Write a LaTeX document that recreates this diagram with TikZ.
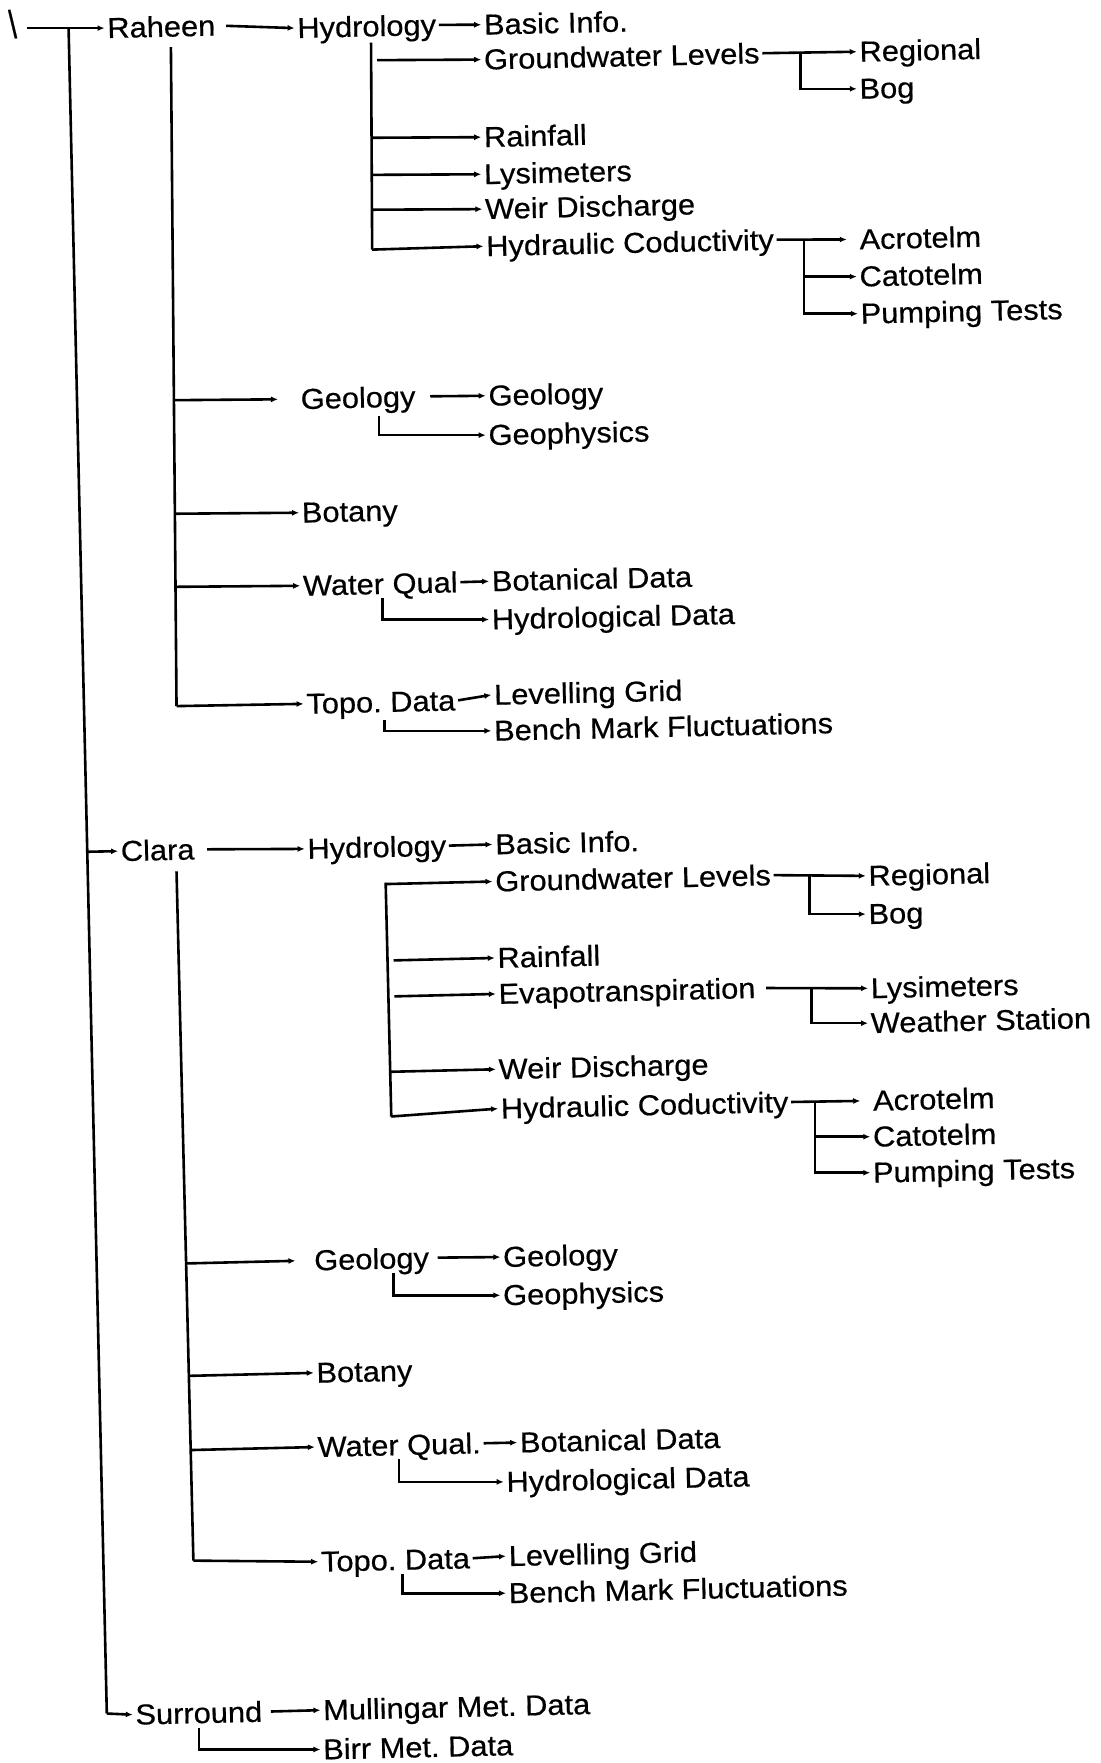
\documentclass[tikz,border=0pt]{standalone}
\usepackage{fontspec}
\setmainfont{Liberation Sans}[FakeStretch=1.07,FakeBold=0.5]
\usetikzlibrary{calc,arrows.meta}
\frenchspacing
\begin{document}
\begin{tikzpicture}[x=0.5624pt,y=-0.5624pt,
  lbl/.style={anchor=west,inner xsep=1.2pt,inner ysep=0pt,text height=10pt,text depth=0pt,rotate=1.3,font=\fontsize{14.4pt}{17pt}\selectfont},
  ln/.style={line width=1.3pt},
  arr/.style={ln,-{Latex[length=3.5pt,width=3pt]}}]
\fill[white] (0,0) rectangle (978.35,1568);
\path[use as bounding box] (0,0) rectangle (978.35,1568);

% ---------- root ----------
\node[lbl] (bs) at (5,25) {\scalebox{1}[1.35]{\textbackslash}};
\coordinate (root) at (24,25);
\coordinate (T) at (61,25);
\coordinate (Tb) at (95,1524);
\node[lbl] (raheen) at (93,25) {Raheen};
\draw[arr] (root) -- (raheen.west);
\draw[ln] (T) -- (Tb);

% ---------- Raheen ----------
\node[lbl] (hydR) at (262,25) {Hydrology};
\draw[arr,shorten <=4pt] (raheen.east) -- (hydR.west);
\node[lbl] (basR) at (428,22) {Basic Info.};
\draw[arr] (hydR.east) -- (basR.west);
\coordinate (hRt) at (330,38);
\coordinate (hRb) at (331,222);
\draw[ln] (hRt) -- (hRb);
\node[lbl] (gwR) at (428,53) {Groundwater Levels};
\node[lbl] (regR) at (762,46) {Regional};
\node[lbl] (bogR) at (762,79) {Bog};
\coordinate (gwRj) at (712,47);
\node[lbl] (rainR) at (428,122) {Rainfall};
\node[lbl] (lysR) at (428,155) {Lysimeters};
\node[lbl] (weirR) at (429,186) {Weir Discharge};
\node[lbl] (hcR) at (430,219) {Hydraulic Coductivity};
\node[lbl] (acrR) at (762,213) {Acrotelm};
\node[lbl] (catR) at (762,246) {Catotelm};
\node[lbl] (pumR) at (763,279) {Pumping Tests};
\coordinate (hcRj) at (715,214);
\draw[arr,shorten <=3pt] ($(hRt)!(gwR.west)!(hRb)$) -- (gwR.west);
\draw[arr] ($(hRt)!(rainR.west)!(hRb)$) -- (rainR.west);
\draw[arr] ($(hRt)!(lysR.west)!(hRb)$) -- (lysR.west);
\draw[arr] ($(hRt)!(weirR.west)!(hRb)$) -- (weirR.west);
\draw[arr] (hRb) -- (hcR.west);
\draw[arr] (gwR.east) -- (regR.west);
\draw[arr] (gwRj) |- (bogR.west);
\draw[arr,shorten >=5pt] (hcR.east) -- (acrR.west);
\draw[arr] (hcRj) |- (pumR.west);
\draw[arr] (hcRj |- catR.west) -- (catR.west);

\coordinate (rt) at (152,42);
\coordinate (rb) at (157,628);
\draw[ln] (rt) -- (rb);
\node[lbl] (geoR) at (265,355) {Geology};
\node[lbl] (geo2R) at (432,352) {Geology};
\node[lbl] (gphR) at (432,387) {Geophysics};
\coordinate (geoRd) at (337,370);
\node[lbl] (botR) at (266,456) {Botany};
\node[lbl] (wqR) at (267,521) {Water Qual};
\node[lbl] (bdR) at (435,517) {Botanical Data};
\node[lbl] (hdR) at (435,551) {Hydrological Data};
\coordinate (wqRd) at (340,532);
\node[lbl] (topoR) at (270,626) {Topo. Data};
\node[lbl] (lgR) at (437,618) {Levelling Grid};
\node[lbl] (bmR) at (437,650) {Bench Mark Fluctuations};
\coordinate (topoRd) at (342,640);
\draw[arr,shorten >=10pt] ($(rt)!(geoR.west)!(rb)$) -- (geoR.west);
\draw[arr,shorten <=6pt] (geoR.east) -- (geo2R.west);
\draw[arr] (geoRd) |- (gphR.west);
\draw[arr] ($(rt)!(botR.west)!(rb)$) -- (botR.west);
\draw[arr] ($(rt)!(wqR.west)!(rb)$) -- (wqR.west);
\draw[arr] (wqR.east) -- (bdR.west);
\draw[arr] (wqRd) |- (hdR.west);
\draw[arr] (rb) -- (topoR.west);
\draw[arr] (topoR.east) -- (lgR.west);
\draw[arr] (topoRd) |- (bmR.west);

% ---------- Clara ----------
\node[lbl] (clara) at (105,757) {Clara};
\draw[arr] ($(T)!(clara.west)!(Tb)$) -- (clara.west);
\node[lbl] (hydC) at (271,755) {Hydrology};
\draw[arr,shorten <=5pt] (clara.east) -- (hydC.west);
\node[lbl] (basC) at (438,751) {Basic Info.};
\draw[arr] (hydC.east) -- (basC.west);
\coordinate (hCt) at (343,785);
\coordinate (hCb) at (348,993);
\draw[ln] (hCt) -- (hCb);
\node[lbl] (gwC) at (438,784) {Groundwater Levels};
\node[lbl] (regC) at (770,779) {Regional};
\node[lbl] (bogC) at (770,813) {Bog};
\coordinate (gwCj) at (720,779);
\node[lbl] (rainC) at (440,852) {Rainfall};
\node[lbl] (evaC) at (441,884) {Evapotranspiration};
\node[lbl] (lysC) at (772,879) {Lysimeters};
\node[lbl] (wsC) at (772,910) {Weather Station};
\coordinate (evaCj) at (722,880);
\node[lbl] (weirC) at (441,951) {Weir Discharge};
\node[lbl] (hcC) at (443,986) {Hydraulic Coductivity};
\node[lbl] (acrC) at (774,979) {Acrotelm};
\node[lbl] (catC) at (774,1011) {Catotelm};
\node[lbl] (pumC) at (774,1043) {Pumping Tests};
\coordinate (hcCj) at (725,981);
\draw[arr] ($(hCt)!(gwC.west)!(hCb)$) -- (gwC.west);
\draw[arr,shorten <=3pt] ($(hCt)!(rainC.west)!(hCb)$) -- (rainC.west);
\draw[arr,shorten <=3pt] ($(hCt)!(evaC.west)!(hCb)$) -- (evaC.west);
\draw[arr] ($(hCt)!(weirC.west)!(hCb)$) -- (weirC.west);
\draw[arr] (hCb) -- (hcC.west);
\draw[arr] (gwC.east) -- (regC.west);
\draw[arr] (gwCj) |- (bogC.west);
\draw[arr,shorten <=4pt] (evaC.east) -- (lysC.west);
\draw[arr] (evaCj) |- (wsC.west);
\draw[arr,shorten >=5pt] (hcC.east) -- (acrC.west);
\draw[arr] (hcCj) |- (pumC.west);
\draw[arr] (hcCj |- catC.west) -- (catC.west);

\coordinate (ct) at (157,775);
\coordinate (cb) at (172,1388);
\draw[ln] (ct) -- (cb);
\node[lbl] (geoC) at (277,1121) {Geology};
\node[lbl] (geo2C) at (445,1118) {Geology};
\node[lbl] (gphC) at (445,1152) {Geophysics};
\coordinate (geoCd) at (350,1132);
\node[lbl] (botC) at (279,1221) {Botany};
\node[lbl] (wqC) at (280,1287) {Water Qual.};
\node[lbl] (bdC) at (460,1283) {Botanical Data};
\node[lbl] (hdC) at (448,1318) {Hydrological Data};
\coordinate (wqCd) at (355,1298);
\node[lbl] (topoC) at (283,1389) {Topo. Data};
\node[lbl] (lgC) at (450,1384) {Levelling Grid};
\node[lbl] (bmC) at (450,1417) {Bench Mark Fluctuations};
\coordinate (topoCd) at (358,1400);
\draw[arr,shorten >=8pt] ($(ct)!(geoC.west)!(cb)$) -- (geoC.west);
\draw[arr,shorten <=3pt] (geoC.east) -- (geo2C.west);
\draw[arr] (geoCd) |- (gphC.west);
\draw[arr] ($(ct)!(botC.west)!(cb)$) -- (botC.west);
\draw[arr] ($(ct)!(wqC.west)!(cb)$) -- (wqC.west);
\draw[arr] (wqC.east) -- (bdC.west);
\draw[arr] (wqCd) |- (hdC.west);
\draw[arr] (cb) -- (topoC.west);
\draw[arr] (topoC.east) -- (lgC.west);
\draw[arr] (topoCd) |- (bmC.west);

% ---------- Surround ----------
\node[lbl] (sur) at (118,1525) {Surround};
\draw[arr] (Tb) -- (sur.west);
\node[lbl] (mul) at (285,1521) {Mullingar Met. Data};
\node[lbl] (birr) at (285,1556) {Birr Met. Data};
\coordinate (surd) at (177,1537);
\draw[arr,shorten <=3pt] (sur.east) -- (mul.west);
\draw[arr] (surd) |- (birr.west);
\end{tikzpicture}
\end{document}
